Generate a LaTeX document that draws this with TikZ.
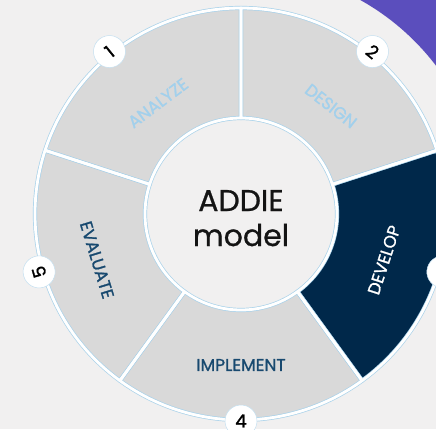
\documentclass[tikz,border=0pt]{standalone}
\usepackage{fontspec}
\setmainfont{Poppins}
\newfontfamily\labelfont{Poppins}[FakeBold=1.2]
\newfontfamily\centerfont{Poppins}[FakeBold=0.8]
\newfontfamily\numfont{Poppins}[FakeBold=1.5]
\definecolor{bg}{HTML}{F1F0F0}
\definecolor{seg}{HTML}{D9D9D9}
\definecolor{edge}{HTML}{A9D2EA}
\definecolor{ghost}{HTML}{A2D0EC}
\definecolor{navy}{HTML}{00284A}
\definecolor{txtblue}{HTML}{18496F}
\definecolor{violet}{HTML}{5B4EBD}
\tikzset{
  numcirc/.style={circle, fill=white, draw=edge!70, line width=0.5pt, minimum size=32pt, inner sep=0pt, text=black, font=\numfont\fontsize{18}{18}\selectfont},
  lbl/.style={inner sep=0pt, font=\labelfont\fontsize{17}{17}\selectfont},
  centertxt/.style={inner sep=0pt, anchor=base, text=black!92, font=\centerfont\fontsize{30}{30}\selectfont},
  ringpath/.style={line join=round},
}
\begin{document}
\begin{tikzpicture}[x=1pt,y=1pt]
\fill[bg] (-241,-215) rectangle (195,214);
\useasboundingbox (-241,-215) rectangle (195,214);
% violet corner
\fill[violet] (195,214) -- (60.86:245) arc[start angle=60.86,end angle=37.25,radius=245] -- cycle;
% segments
\foreach \a/\c in {90/seg,18/seg,-54/navy,-126/seg,162/seg} {
  \fill[\c] (\a:96) -- (\a:206) arc[start angle=\a, end angle={\a+72}, radius=206] -- ({\a+72}:96) arc[start angle={\a+72}, end angle=\a, radius=96] -- cycle;
}
\foreach \a in {90,18,-54,-126,162} {
  \draw[ringpath, edge, line width=4.2pt] (\a:96) -- (\a:206) arc[start angle=\a, end angle={\a+72}, radius=206] -- ({\a+72}:96) arc[start angle={\a+72}, end angle=\a, radius=96] -- cycle;
}
\foreach \a in {90,18,-54,-126,162} {
  \draw[ringpath, white, line width=2.8pt] (\a:96) -- (\a:206) arc[start angle=\a, end angle={\a+72}, radius=206] -- ({\a+72}:96) arc[start angle={\a+72}, end angle=\a, radius=96] -- cycle;
}
% center text
\node[centertxt] (addie) at (0,3) {ADDIE};
\node[centertxt] (model) at (0,-32) {model};
% labels
\node[lbl, text=ghost, rotate=37] (analyze) at (-83,111) {ANALYZE};
\node[lbl, text=ghost, rotate=-38] (design) at (90,108) {DESIGN};
\node[lbl, text=white, rotate=72] (develop) at (143,-46) {DEVELOP};
\node[lbl, text=txtblue] (implement) at (0,-151) {IMPLEMENT};
\node[lbl, text=txtblue, rotate=-73] (evaluate) at (-144,-46) {EVALUATE};
% number badges
\node[numcirc, rotate=39] (n1) at (129:209) {1};
\node[numcirc, rotate=-39] (n2) at (51:209) {2};
\node[numcirc, rotate=-106] (n3) at (-16:210) {3};
\node[numcirc] (n4) at (-90:207) {4};
\node[numcirc, rotate=106] (n5) at (196:210) {5};
\end{tikzpicture}
\end{document}
